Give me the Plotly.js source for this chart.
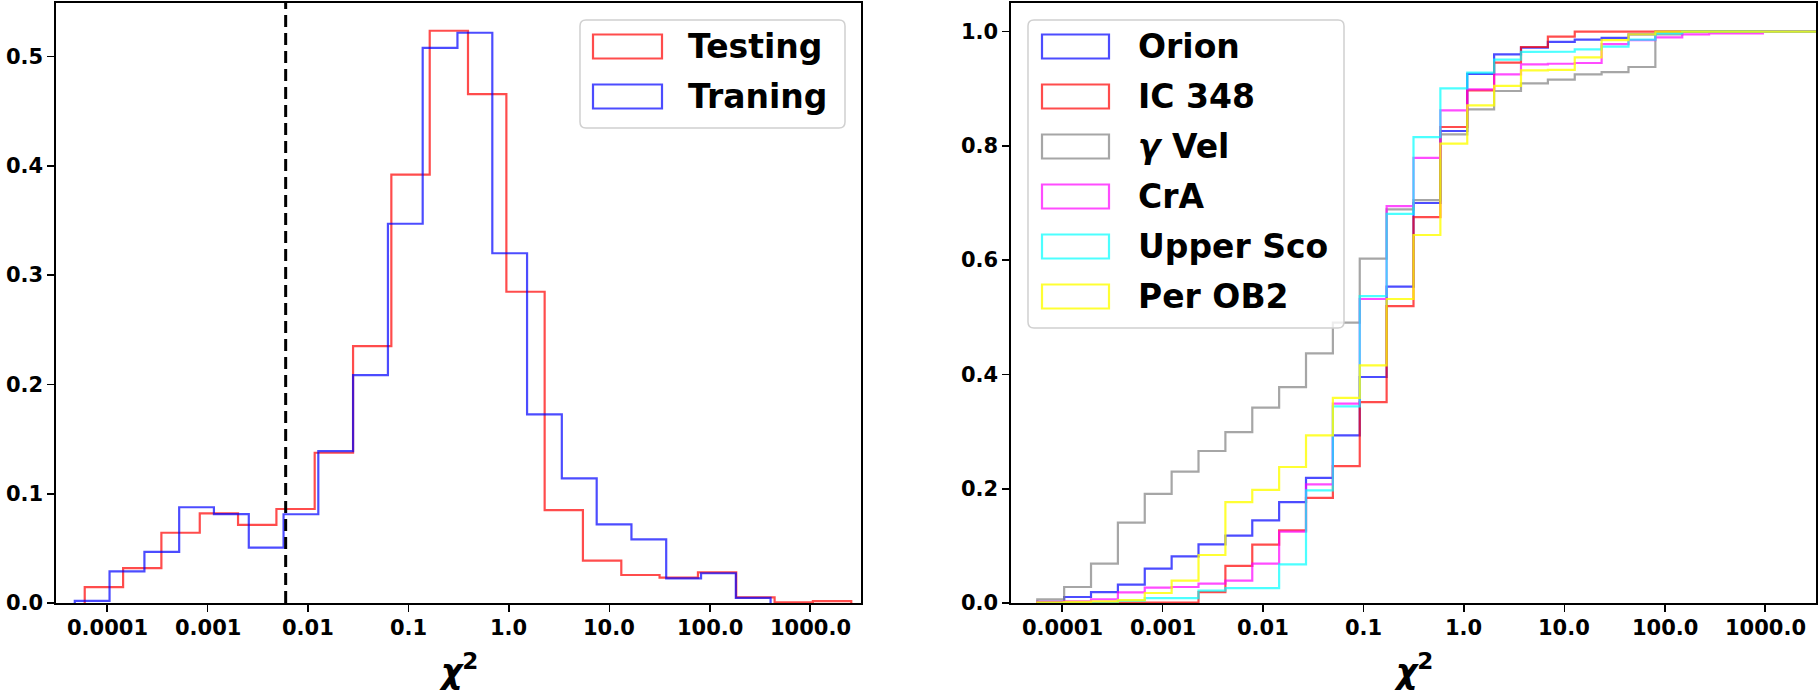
<!DOCTYPE html>
<html><head><meta charset="utf-8">
<script src="https://cdn.plot.ly/plotly-3.0.1.min.js"></script>
<style>html,body{margin:0;padding:0;background:#fff}#chart{width:1820px;height:691px}</style>
</head><body><div id="chart"></div>
<script>
// ---------------- DATA ----------------
const xTickVals = [0.0001, 0.001, 0.01, 0.1, 1, 10, 100, 1000];
const xTickText = ['0.0001', '0.001', '0.01', '0.1', '1.0', '10.0', '100.0', '1000.0'];
const leftYTicks = [0, 0.1, 0.2, 0.3, 0.4, 0.5];
const leftYText = ['0.0', '0.1', '0.2', '0.3', '0.4', '0.5'];
const rightYTicks = [0, 0.2, 0.4, 0.6, 0.8, 1.0];
const rightYText = ['0.0', '0.2', '0.4', '0.6', '0.8', '1.0'];
const xTitle = '<i>χ</i><sup>2</sup>';

// Left panel: density histograms over log10(chi^2) bins
const histNames = ['Testing', 'Traning'];
const testingEdgesLog = [-4.222, -3.840, -3.459, -3.077, -2.696, -2.314, -1.933, -1.551, -1.170, -0.788, -0.407,
  -0.025, 0.356, 0.737, 1.119, 1.500, 1.882, 2.263, 2.645, 3.026, 3.408];
const testingDensity = [0.0146, 0.032, 0.0643, 0.082, 0.0714, 0.086, 0.1375, 0.235, 0.392, 0.5236,
  0.4657, 0.2848, 0.085, 0.0387, 0.0256, 0.0232, 0.028, 0.0052, 0.0006, 0.0018];
const trainingEdgesLog = [-4.321, -3.975, -3.628, -3.282, -2.936, -2.589, -2.243, -1.897, -1.551, -1.204, -0.858,
  -0.512, -0.165, 0.181, 0.527, 0.874, 1.220, 1.566, 1.913, 2.259, 2.605];
const trainingDensity = [0.002, 0.029, 0.0467, 0.0876, 0.0814, 0.0506, 0.0812, 0.139, 0.2085, 0.347,
  0.508, 0.5218, 0.320, 0.1726, 0.114, 0.072, 0.0583, 0.0226, 0.0272, 0.0046];
const chi2Threshold = 0.006;

// Right panel: cumulative histograms per cluster (shared log10 bins)
const clusterNames = ['Orion', 'IC 348', '<i>γ</i> Vel', 'CrA', 'Upper Sco', 'Per OB2'];
const clusterEdgesLog = [-4.2465, -3.979, -3.7115, -3.444, -3.1765, -2.909, -2.6415, -2.374, -2.1065, -1.839,
  -1.5715, -1.304, -1.0365, -0.769, -0.5015, -0.234, 0.0335, 0.301, 0.5685, 0.836,
  1.1035, 1.371, 1.6385, 1.906, 2.1735, 2.441, 2.7085, 2.976, 3.2435, 3.511, 3.7785];
const orionCdf = [0.002, 0.0105, 0.019, 0.032, 0.060, 0.0817, 0.1027, 0.118, 0.1447, 0.1767,
  0.219, 0.2934, 0.3955, 0.5535, 0.700, 0.826, 0.926, 0.960, 0.972, 0.982,
  0.986, 0.989, 0.995, 1, 1, 1, 1, 1, 1, 1];
const ic348Cdf = [0, 0, 0, 0.0005, 0.001, 0.001, 0.019, 0.065, 0.102, 0.127,
  0.184, 0.2397, 0.3517, 0.5197, 0.6754, 0.833, 0.897, 0.9455, 0.973, 0.991,
  1, 1, 1, 1, 1, 1, 1, 1, 1, 1];
const gammaVelCdf = [0.0064, 0.028, 0.069, 0.1405, 0.191, 0.2298, 0.266, 0.299, 0.3418, 0.3779,
  0.4369, 0.4905, 0.6025, 0.689, 0.705, 0.820, 0.864, 0.896, 0.9095, 0.916,
  0.925, 0.929, 0.938, 0.995, 1, 1, 1, 1, 1, 1];
const crACdf = [0.002, 0.003, 0.0064, 0.0187, 0.0268, 0.028, 0.0338, 0.039, 0.069, 0.125,
  0.2077, 0.3488, 0.532, 0.6947, 0.779, 0.862, 0.899, 0.925, 0.9425, 0.9437,
  0.945, 0.978, 0.985, 0.990, 0.995, 0.997, 0.997, 1, 1, 1];
const upperScoCdf = [0, 0, 0, 0.004, 0.0087, 0.0087, 0.0216, 0.026, 0.026, 0.0677,
  0.197, 0.3442, 0.537, 0.681, 0.8154, 0.9006, 0.928, 0.951, 0.9645, 0.9647,
  0.969, 0.9735, 0.986, 0.997, 1, 1, 1, 1, 1, 1];
const perOB2Cdf = [0.001, 0.002, 0.003, 0.005, 0.0175, 0.039, 0.084, 0.1767, 0.198, 0.238,
  0.2934, 0.359, 0.416, 0.532, 0.644, 0.804, 0.871, 0.905, 0.932, 0.933,
  0.955, 0.985, 0.995, 1, 1, 1, 1, 1, 1, 1];

// ---------------- STYLE ----------------
const W = 1820, H = 691;
const leftBox = [56, 861], rightBox = [1011, 1816], plotTop = 3, plotBot = 603;
const histColors = ['rgba(255,0,0,0.7)', 'rgba(0,0,255,0.7)'];
const clusterColors = ['rgba(0,0,255,0.7)', 'rgba(255,0,0,0.7)', 'rgba(128,128,128,0.7)',
  'rgba(255,0,255,0.7)', 'rgba(0,255,255,0.7)', 'rgba(255,255,0,0.8)'];
const LW = 2.2;
const FONT = 'DejaVu Sans, Verdana, sans-serif';
const XRANGE = [-4.508, 3.505];

function stepTrace(edgesLog, vals, color, xa, ya) {
  const xs = [Math.pow(10, edgesLog[0])], ys = [0];
  for (let k = 0; k < vals.length; k++) {
    xs.push(Math.pow(10, edgesLog[k]), Math.pow(10, edgesLog[k + 1]));
    ys.push(vals[k], vals[k]);
  }
  xs.push(Math.pow(10, edgesLog[vals.length])); ys.push(0);
  return {type: 'scatter', mode: 'lines', x: xs, y: ys, xaxis: xa, yaxis: ya,
    line: {color: color, width: LW, shape: 'linear'}, hoverinfo: 'skip'};
}

const traces = [
  stepTrace(testingEdgesLog, testingDensity, histColors[0], 'x', 'y'),
  stepTrace(trainingEdgesLog, trainingDensity, histColors[1], 'x', 'y'),
  {type: 'scatter', mode: 'lines', x: [chi2Threshold, chi2Threshold], y: [0, 0.549], xaxis: 'x', yaxis: 'y',
   line: {color: '#000', width: 3, dash: '12px,6px'}, hoverinfo: 'skip'}
];
const cdfs = [orionCdf, ic348Cdf, gammaVelCdf, crACdf, upperScoCdf, perOB2Cdf];
cdfs.forEach((c, i) => traces.push(stepTrace(clusterEdgesLog, c, clusterColors[i], 'x2', 'y2')));

const px = v => v / W, py = v => 1 - v / H;

// x axes: frame + tick marks (labels are placed as annotations on the same axis scale)
function axisX(domain, anchor) {
  return {domain: domain, anchor: anchor, type: 'log', range: XRANGE,
    tickmode: 'array', tickvals: xTickVals, ticktext: xTickText, showticklabels: false,
    ticks: 'outside', ticklen: 7, tickwidth: 1.6, tickcolor: '#000',
    showline: true, linecolor: '#000', linewidth: 1.6, mirror: true,
    showgrid: false, zeroline: false};
}
function axisY(range, tv, tt, anchor) {
  return {domain: [py(plotBot), py(plotTop)], anchor: anchor, range: range,
    tickmode: 'array', tickvals: tv, ticktext: tt,
    ticks: 'outside', ticklen: 7, tickwidth: 1.6, tickcolor: '#000',
    showline: true, linecolor: '#000', linewidth: 1.6, mirror: true,
    showgrid: false, zeroline: false,
    tickfont: {family: FONT, size: 21, color: '#000', weight: 'bold'}};
}

function roundBox(x0, y0, x1, y1, r) {
  const X = v => px(v).toFixed(6), Y = v => py(v).toFixed(6);
  return 'M' + X(x0 + r) + ',' + Y(y0) + ' L' + X(x1 - r) + ',' + Y(y0) +
    ' Q' + X(x1) + ',' + Y(y0) + ' ' + X(x1) + ',' + Y(y0 + r) +
    ' L' + X(x1) + ',' + Y(y1 - r) + ' Q' + X(x1) + ',' + Y(y1) + ' ' + X(x1 - r) + ',' + Y(y1) +
    ' L' + X(x0 + r) + ',' + Y(y1) + ' Q' + X(x0) + ',' + Y(y1) + ' ' + X(x0) + ',' + Y(y1 - r) +
    ' L' + X(x0) + ',' + Y(y0 + r) + ' Q' + X(x0) + ',' + Y(y0) + ' ' + X(x0 + r) + ',' + Y(y0) + ' Z';
}

const shapes = [], annotations = [];
function addLegend(box, patchX, textX, firstY, names, colors) {
  shapes.push({type: 'path', xref: 'paper', yref: 'paper', path: roundBox(box[0], box[1], box[2], box[3], 6),
    fillcolor: 'rgba(255,255,255,0.8)', line: {color: '#d0d0d0', width: 1.5}});
  names.forEach((n, i) => {
    const cy = firstY + i * 50;
    shapes.push({type: 'rect', xref: 'paper', yref: 'paper', x0: px(patchX[0]), x1: px(patchX[1]),
      y0: py(cy - 12), y1: py(cy + 12), line: {color: colors[i], width: LW}, fillcolor: 'rgba(0,0,0,0)'});
    annotations.push({xref: 'paper', yref: 'paper', x: px(textX), y: py(cy), xanchor: 'left', yanchor: 'middle',
      text: n, showarrow: false, font: {family: FONT, size: 33, color: '#000', weight: 'bold'}});
  });
}
addLegend([580, 20, 845, 128], [593, 662], 686, 46.5, histNames, histColors);
addLegend([1028, 20, 1344, 328], [1042, 1109], 1136, 46.5, clusterNames, clusterColors);

// x tick labels on the log axes (annotation x on a log axis is given as log10 of the value)
['x', 'x2'].forEach(xr => xTickVals.forEach((v, i) => annotations.push({
  xref: xr, yref: 'paper', x: Math.log10(v), y: py(628), xanchor: 'center', yanchor: 'middle',
  showarrow: false, text: xTickText[i], font: {family: FONT, size: 21, color: '#000', weight: 'bold'}})));

// x-axis titles (chi^2) centred under each panel
[leftBox, rightBox].forEach(b => annotations.push({xref: 'paper', yref: 'paper',
  x: px((b[0] + b[1]) / 2), y: py(669), xanchor: 'center', yanchor: 'middle', showarrow: false,
  text: xTitle, font: {family: FONT, size: 33, color: '#000', weight: 'bold'}}));

const layout = {
  width: W, height: H, margin: {l: 0, r: 0, t: 0, b: 0},
  paper_bgcolor: '#fff', plot_bgcolor: '#fff', showlegend: false,
  font: {family: FONT, color: '#000'},
  xaxis: axisX([px(leftBox[0]), px(leftBox[1])], 'y'),
  yaxis: axisY([0, 0.549], leftYTicks, leftYText, 'x'),
  xaxis2: axisX([px(rightBox[0]), px(rightBox[1])], 'y2'),
  yaxis2: axisY([0, 1.05], rightYTicks, rightYText, 'x2'),
  shapes: shapes, annotations: annotations
};

Plotly.newPlot('chart', traces, layout, {staticPlot: true, displayModeBar: false});
</script></body></html>
